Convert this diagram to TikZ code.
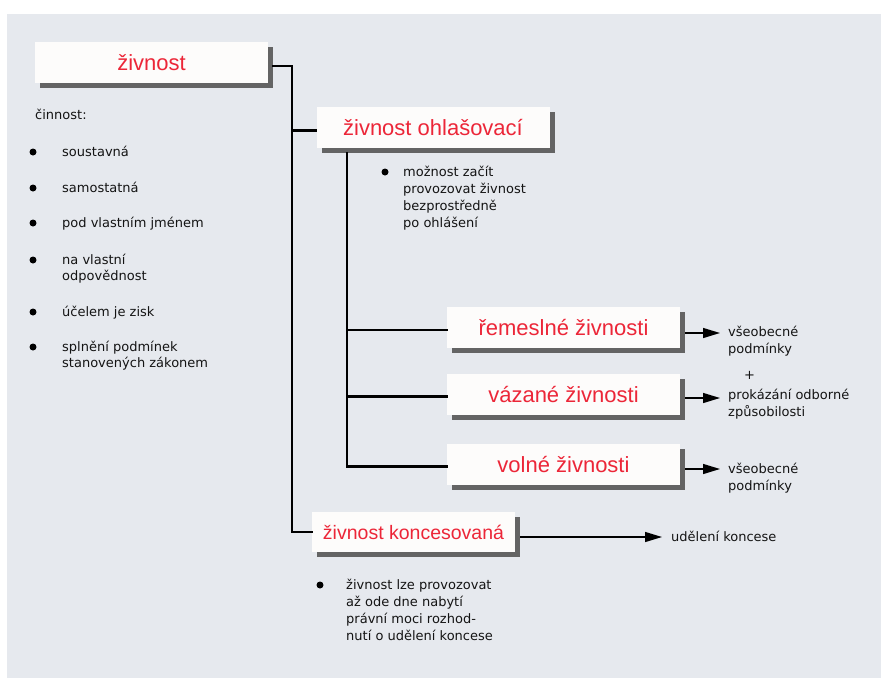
\documentclass[tikz,border=0pt]{standalone}
\usepackage{fontspec}
\setmainfont{Liberation Sans}
\newfontfamily\smallfont{DejaVu Sans}
\usetikzlibrary{shadows,arrows.meta}
\definecolor{bg}{RGB}{230,233,238}
\definecolor{redtxt}{RGB}{236,38,56}
\definecolor{shadowgray}{RGB}{100,100,100}
\definecolor{boxwhite}{RGB}{253,252,251}
\begin{document}
\begin{tikzpicture}[x=1pt,y=-1pt,
  box/.style={fill=boxwhite, text=redtxt, font=\fontsize{22}{26}\selectfont,
    minimum width=233pt, minimum height=41pt, inner sep=0pt,
    drop shadow={shadow xshift=5pt, shadow yshift=-5pt, fill=shadowgray, opacity=1}},
  txt/.style={anchor=base west, inner sep=0pt, font=\smallfont\fontsize{13}{16.5}\selectfont, text=black!92},
  dot/.style={circle, fill=black, inner sep=0pt, minimum size=7pt},
  tree/.style={line width=2.2pt, line cap=rect},
  arr/.style={line width=1.3pt, -{Triangle[length=17pt,width=10pt]}}
]
\useasboundingbox (0,0) rectangle (881,678);
\fill[bg] (7,14) rectangle (881,678);

% boxes
\node[box] (zv)  at (151.5,62.5) {živnost};
\node[box] (oh)  at (433,127.5) {živnost ohlašovací};
\node[box] (rem) at (563.5,327.5) {řemeslné živnosti};
\node[box] (vaz) at (563.5,394.5) {vázané živnosti};
\node[box] (vol) at (563.5,464.5) {volné živnosti};
\node[box, minimum width=203pt, minimum height=40pt, font=\fontsize{19.5}{23}\selectfont] (kon) at (413.5,532) {živnost koncesovaná};

% tree connectors
\coordinate (t1) at (292,66);
\coordinate (t2) at (347,153);
\draw[tree] ([xshift=5pt,yshift=-3.5pt]zv.east) -- (t1) -- (t1 |- kon.west) -- (kon.west);
\draw[tree] (t1 |- oh.west) ++(0,3) -- ([yshift=-3pt]oh.west);
\draw[tree] (t2) -- ([yshift=-2pt]t2 |- vol.west);
\draw[tree] ([yshift=-2.5pt]t2 |- rem.west) -- ([yshift=-2.5pt]rem.west);
\draw[tree] ([yshift=-2pt]t2 |- vaz.west) -- ([yshift=-2pt]vaz.west);
\draw[tree] ([yshift=-2pt]t2 |- vol.west) -- ([yshift=-2pt]vol.west);

% left list
\node[txt] (c0) at (35,119) {činnost:};
\node[dot] (d1) at (33,152) {};
\node[txt] (l1) at (62,156) {soustavná};
\node[dot] (d2) at (33,188) {};
\node[txt] (l2) at (62,192) {samostatná};
\node[dot] (d3) at (33,223) {};
\node[txt] (l3) at (62,227) {pod vlastním jménem};
\node[dot] (d4) at (33,260) {};
\node[txt] (l4) at (62,264) {na vlastní};
\node[txt] (l4b) at (62,280.5) {odpovědnost};
\node[dot] (d5) at (33,312) {};
\node[txt] (l5) at (62,316) {účelem je zisk};
\node[dot] (d6) at (33,347) {};
\node[txt] (l6) at (62,351) {splnění podmínek};
\node[txt] (l6b) at (62,367.5) {stanovených zákonem};

% ohlasovaci bullet
\node[dot] (d7) at (385,172) {};
\node[txt] (o1) at (403,176) {možnost začít};
\node[txt] (o2) at (403,193) {provozovat živnost};
\node[txt] (o3) at (403,210) {bezprostředně};
\node[txt] (o4) at (403,227) {po ohlášení};

% koncese bullet
\node[dot] (d8) at (320,585) {};
\node[txt] (k1) at (346,589) {živnost lze provozovat};
\node[txt] (k2) at (346,606) {až ode dne nabytí};
\node[txt] (k3) at (346,623) {právní moci rozhod-};
\node[txt] (k4) at (346,640) {nutí o udělení koncese};

% right texts
\node[txt] (r1) at (728,336) {všeobecné};
\node[txt] (r1b) at (728,353) {podmínky};
\node[txt] (plus) at (744,379) {+};
\node[txt] (r2) at (728,399) {prokázání odborné};
\node[txt] (r2b) at (728,416) {způsobilosti};
\node[txt] (r3) at (728,473) {všeobecné};
\node[txt] (r3b) at (728,490) {podmínky};
\node[txt] (r4) at (671,541) {udělení koncese};

% arrows
\coordinate (e1) at (720,333);
\coordinate (e2) at (720,398);
\coordinate (e3) at (720,469);
\coordinate (e4) at (662,537);
\draw[arr] (rem.east |- e1) ++(5,0) -- (e1);
\draw[arr] (vaz.east |- e2) ++(5,0) -- (e2);
\draw[arr] (vol.east |- e3) ++(5,0) -- (e3);
\draw[arr] (kon.east |- e4) ++(5,0) -- (e4);
\end{tikzpicture}
\end{document}
